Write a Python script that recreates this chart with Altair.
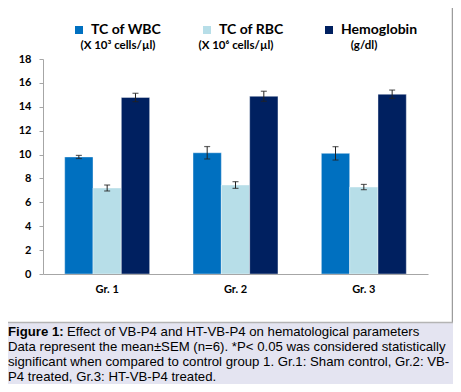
import altair as alt
import pandas as pd

groups = ["Gr. 1", "Gr. 2", "Gr. 3"]
series = ["TC of WBC", "TC of RBC", "Hemoglobin"]
colors = ["#0070c0", "#b7dee8", "#002060"]

wbc_mean = [9.8, 10.15, 10.1]
wbc_sem = [0.13, 0.52, 0.56]
rbc_mean = [7.2, 7.45, 7.28]
rbc_sem = [0.25, 0.28, 0.22]
hb_mean = [14.78, 14.88, 15.05]
hb_sem = [0.35, 0.42, 0.35]

y_ticks = [0, 2, 4, 6, 8, 10, 12, 14, 16, 18]
sublabels = ["(X 10³ cells/µl)", "(X 10⁶ cells/µl)", "(g/dl)"]
caption_bold = "Figure 1:"
caption_lines = [
    "Effect of VB-P4 and HT-VB-P4 on hematological parameters",
    "Data represent the mean±SEM (n=6). *P< 0.05 was considered statistically",
    "significant when compared to control group 1. Gr.1: Sham control, Gr.2: VB-",
    "P4 treated, Gr.3: HT-VB-P4 treated.",
]

rows = []
for s, means, sems in zip(series, [wbc_mean, rbc_mean, hb_mean], [wbc_sem, rbc_sem, hb_sem]):
    for g, m, e in zip(groups, means, sems):
        rows.append({"group": g, "series": s, "mean": m, "lo": m - e, "hi": m + e})
df = pd.DataFrame(rows)

FONT = "Lato"
x_axis = alt.Axis(title=None, labelAngle=0, ticks=False, domainColor="#a6a6a6",
                  labelFont=FONT, labelFontWeight="bold", labelFontSize=11,
                  labelColor="#000000", labelPadding=9, zindex=1)
y_axis = alt.Axis(values=y_ticks, grid=False, title=None, domainColor="#a6a6a6",
                  tickColor="#a6a6a6", tickSize=4, labelPadding=8,
                  labelFont=FONT, labelFontWeight="bold", labelFontSize=11,
                  labelColor="#000000", zindex=1, labelOverlap=False)
x_scale = alt.Scale(paddingInner=0.338, paddingOuter=0.169)
x_enc = alt.X("group:N", sort=groups, scale=x_scale, axis=x_axis)
xoff = alt.XOffset("series:N", sort=series, scale=alt.Scale(paddingInner=0, paddingOuter=0))
y_scale = alt.Scale(domain=[0, 18], nice=False)

one = pd.DataFrame({"a": [0]})
panel = alt.Chart(one).mark_rect(color="#ffffff").encode(
    x=alt.value(-40), x2=alt.value(409), y=alt.value(-60), y2=alt.value(263)
)
panel_right = alt.Chart(one).mark_rule(color="#9c9c9c", strokeWidth=2.5).encode(
    x=alt.value(410), y=alt.value(-60), y2=alt.value(264)
)
panel_bottom = alt.Chart(one).mark_rule(color="#b4b4b4", strokeWidth=1.5).encode(
    x=alt.value(-40), x2=alt.value(410), y=alt.value(263.5)
)

bars = alt.Chart(df).mark_bar(stroke="#ffffff", strokeOpacity=0.4, strokeWidth=1).encode(
    x=x_enc,
    xOffset=xoff,
    y=alt.Y("mean:Q", scale=y_scale, axis=y_axis),
    color=alt.Color("series:N", sort=series, scale=alt.Scale(domain=series, range=colors),
                    legend=alt.Legend(title=None, orient="none", legendX=29, legendY=-36,
                                      direction="horizontal", symbolType="square",
                                      symbolSize=64, symbolStrokeWidth=0,
                                      labelFont=FONT, labelFontWeight="bold",
                                      labelFontSize=14, labelColor="#000000",
                                      columnPadding=38, labelOffset=5, padding=0,
                                      zindex=1)),
)

err = alt.Chart(df).mark_rule(color="#222222", strokeWidth=1).encode(
    x=x_enc, xOffset=xoff,
    y=alt.Y("lo:Q", scale=y_scale, axis=y_axis), y2="hi:Q",
)
cap_hi = alt.Chart(df).mark_tick(color="#222222", thickness=1.2, size=6).encode(
    x=x_enc, xOffset=xoff, y=alt.Y("hi:Q", scale=y_scale, axis=y_axis),
)
cap_lo = alt.Chart(df).mark_tick(color="#222222", thickness=1.2, size=6).encode(
    x=x_enc, xOffset=xoff, y=alt.Y("lo:Q", scale=y_scale, axis=y_axis),
)

sub_x = [75, 193, 321]
sub_layers = []
for t, xv in zip(sublabels, sub_x):
    sub_layers.append(
        alt.Chart(pd.DataFrame({"t": [t]})).mark_text(
            font=FONT, fontWeight="bold", fontSize=11.5, color="#000000",
            align="center", baseline="middle"
        ).encode(text="t:N", x=alt.value(xv), y=alt.value(-13))
    )

cap_font = "Liberation Sans"
cap_size = 13.2
cap_layers = [
    alt.Chart(pd.DataFrame({"t": [caption_bold]})).mark_text(
        font=cap_font, fontWeight="bold", fontSize=cap_size, color="#000000",
        align="left", baseline="alphabetic"
    ).encode(text="t:N", x=alt.value(-35), y=alt.value(277))
]
line_y = [277, 292, 307, 322]
line_x = [24, -35, -35, -35]
for t, xv, yv in zip(caption_lines, line_x, line_y):
    cap_layers.append(
        alt.Chart(pd.DataFrame({"t": [t]})).mark_text(
            font=cap_font, fontSize=cap_size, color="#000000",
            align="left", baseline="alphabetic"
        ).encode(text="t:N", x=alt.value(xv), y=alt.value(yv))
    )

chart = alt.layer(
    panel, panel_right, panel_bottom, bars, err, cap_hi, cap_lo, *sub_layers, *cap_layers
).properties(
    width=385, height=215,
    autosize=alt.AutoSizeParams(type="none"),
    padding={"left": 35, "top": 51, "right": 25, "bottom": 110},
).configure(background="#e4e4f1").configure_view(strokeWidth=0)

chart.save("out.html", embed_options={"renderer": "svg", "actions": False})
